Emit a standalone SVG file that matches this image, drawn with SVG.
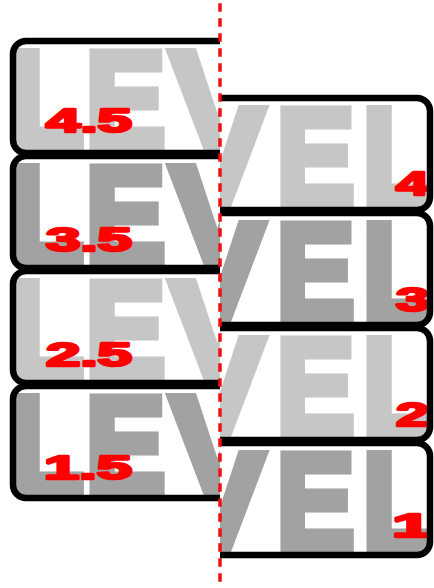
<svg xmlns="http://www.w3.org/2000/svg" xmlns:xlink="http://www.w3.org/1999/xlink" width="434" height="588" viewBox="0 0 434 588">
<style>
.big{font-family:"Liberation Sans",Arial,sans-serif;font-weight:bold;font-size:136px;stroke-width:9;stroke-linejoin:miter}
.lt{fill:#c6c6c6;stroke:#c6c6c6}
.dk{fill:#a2a2a2;stroke:#a2a2a2}
.num{font-family:"Liberation Sans",Arial,sans-serif;font-weight:bold;font-size:34px;fill:#f00;stroke:#f00;stroke-width:2.5;stroke-linejoin:round}
.frame{fill:none;stroke:#000;stroke-width:6.5;stroke-linejoin:round}
.div{stroke:#ee1111;stroke-width:3.5;stroke-dasharray:8.5 6.5}
</style>
<defs>
<g id="word">
<text class="big" transform="translate(10.5,108) scale(0.88,1)">L</text>
<text class="big" transform="translate(85.5,108) scale(0.88,1)">E</text>
<text class="big" transform="translate(170.5,108) scale(1.03,1)">V</text>
<text class="big" transform="translate(276.5,108) scale(0.86,1)">E</text>
<text class="big" transform="translate(362.5,108) scale(0.88,1)">L</text>
</g>
<clipPath id="cL1"><path d="M220,41 H26 A13,13 0 0 0 13,54 V140 A13,13 0 0 0 26,153 H220 Z"/></clipPath>
<clipPath id="cL2"><path d="M220,156 H26 A13,13 0 0 0 13,169 V255 A13,13 0 0 0 26,268 H220 Z"/></clipPath>
<clipPath id="cL3"><path d="M220,271 H26 A13,13 0 0 0 13,284 V370 A13,13 0 0 0 26,383 H220 Z"/></clipPath>
<clipPath id="cL4"><path d="M220,386 H26 A13,13 0 0 0 13,399 V485 A13,13 0 0 0 26,498 H220 Z"/></clipPath>
<clipPath id="cR1"><path d="M220,98 H417 A13,13 0 0 1 430,111 V197 A13,13 0 0 1 417,210 H220 Z"/></clipPath>
<clipPath id="cR2"><path d="M220,213 H417 A13,13 0 0 1 430,226 V312 A13,13 0 0 1 417,325 H220 Z"/></clipPath>
<clipPath id="cR3"><path d="M220,328 H417 A13,13 0 0 1 430,341 V427 A13,13 0 0 1 417,440 H220 Z"/></clipPath>
<clipPath id="cR4"><path d="M220,443 H417 A13,13 0 0 1 430,456 V542 A13,13 0 0 1 417,555 H220 Z"/></clipPath>
</defs>
<rect width="434" height="588" fill="#fff"/>

<g id="level-4-5">
<g clip-path="url(#cL1)"><use xlink:href="#word" class="lt" transform="translate(0,38)"/></g>
<text class="num" x="46" y="132" textLength="86" lengthAdjust="spacingAndGlyphs">4.5</text>
<path class="frame" d="M220,41 H26 A13,13 0 0 0 13,54 V140 A13,13 0 0 0 26,153 H220"/>
</g>
<g id="level-3-5">
<g clip-path="url(#cL2)"><use xlink:href="#word" class="dk" transform="translate(0,153)"/></g>
<text class="num" x="46" y="251" textLength="86" lengthAdjust="spacingAndGlyphs">3.5</text>
<path class="frame" d="M220,156 H26 A13,13 0 0 0 13,169 V255 A13,13 0 0 0 26,268 H220"/>
</g>
<g id="level-2-5">
<g clip-path="url(#cL3)"><use xlink:href="#word" class="lt" transform="translate(0,268)"/></g>
<text class="num" x="46" y="366" textLength="86" lengthAdjust="spacingAndGlyphs">2.5</text>
<path class="frame" d="M220,271 H26 A13,13 0 0 0 13,284 V370 A13,13 0 0 0 26,383 H220"/>
</g>
<g id="level-1-5">
<g clip-path="url(#cL4)"><use xlink:href="#word" class="dk" transform="translate(0,383)"/></g>
<text class="num" x="44" y="479" textLength="88" lengthAdjust="spacingAndGlyphs">1.5</text>
<path class="frame" d="M220,386 H26 A13,13 0 0 0 13,399 V485 A13,13 0 0 0 26,498 H220"/>
</g>

<g id="level-4">
<g clip-path="url(#cR1)"><use xlink:href="#word" class="lt" transform="translate(0,95)"/></g>
<text class="num" x="396" y="195" textLength="33" lengthAdjust="spacingAndGlyphs">4</text>
<path class="frame" d="M220,98 H417 A13,13 0 0 1 430,111 V197 A13,13 0 0 1 417,210 H220"/>
</g>
<g id="level-3">
<g clip-path="url(#cR2)"><use xlink:href="#word" class="dk" transform="translate(0,210)"/></g>
<text class="num" x="396" y="311" textLength="33" lengthAdjust="spacingAndGlyphs">3</text>
<path class="frame" d="M220,213 H417 A13,13 0 0 1 430,226 V312 A13,13 0 0 1 417,325 H220"/>
</g>
<g id="level-2">
<g clip-path="url(#cR3)"><use xlink:href="#word" class="lt" transform="translate(0,325)"/></g>
<text class="num" x="396" y="426" textLength="33" lengthAdjust="spacingAndGlyphs">2</text>
<path class="frame" d="M220,328 H417 A13,13 0 0 1 430,341 V427 A13,13 0 0 1 417,440 H220"/>
</g>
<g id="level-1">
<g clip-path="url(#cR4)"><use xlink:href="#word" class="dk" transform="translate(0,440)"/></g>
<text class="num" x="392" y="537" textLength="40" lengthAdjust="spacingAndGlyphs">1</text>
<path class="frame" d="M220,443 H417 A13,13 0 0 1 430,456 V542 A13,13 0 0 1 417,555 H220"/>
</g>

<g id="connectors">
<line class="div" x1="220" y1="3.3" x2="220" y2="588"/>
</g>
</svg>
